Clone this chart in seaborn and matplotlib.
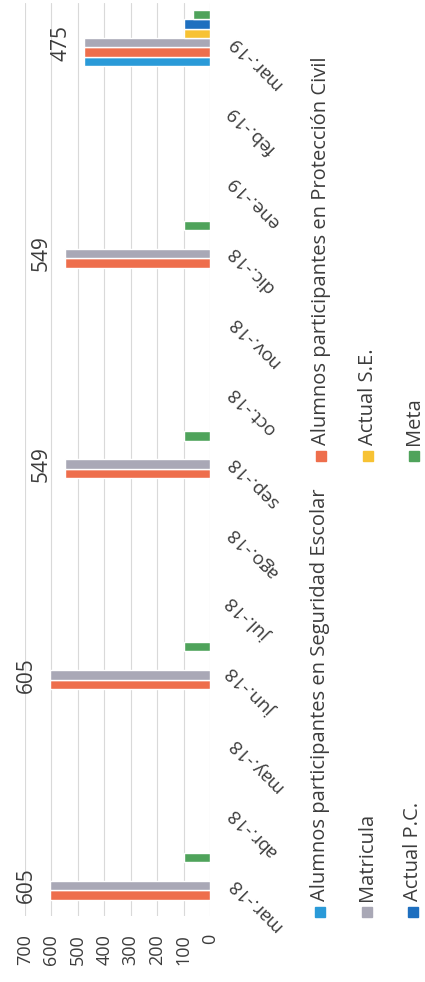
import numpy as np
import pandas as pd
import matplotlib
matplotlib.use('Agg')
import matplotlib.pyplot as plt
from matplotlib.patches import Rectangle
import seaborn as sns

nan = np.nan

months = ['mar.-18', 'abr.-18', 'may.-18', 'jun.-18', 'jul.-18', 'ago.-18', 'sep.-18',
          'oct.-18', 'nov.-18', 'dic.-18', 'ene.-19', 'feb.-19', 'mar.-19']

series = ['Alumnos participantes en Seguridad Escolar',
          'Alumnos participantes en Protección Civil',
          'Matricula', 'Actual S.E.', 'Actual P.C.', 'Meta']
colors = ['#2A9AD8', '#EE6E4C', '#A9A8B6', '#F7C233', '#1E6FBF', '#4FA35B']

seg_escolar = [nan, nan, nan, nan, nan, nan, nan, nan, nan, nan, nan, nan, 475]
prot_civil = [605, nan, nan, 605, nan, nan, 549, nan, nan, 549, nan, nan, 475]
matricula = [605, nan, nan, 605, nan, nan, 549, nan, nan, 549, nan, nan, 475]
actual_se = [nan, nan, nan, nan, nan, nan, nan, nan, nan, nan, nan, nan, 100]
actual_pc = [nan, nan, nan, nan, nan, nan, nan, nan, nan, nan, nan, nan, 100]
meta = [100, nan, nan, 100, nan, nan, 100, nan, nan, 100, nan, nan, 65]

df = pd.DataFrame({'mes': months, series[0]: seg_escolar, series[1]: prot_civil,
                   series[2]: matricula, series[3]: actual_se,
                   series[4]: actual_pc, series[5]: meta})
df = df.melt(id_vars='mes', var_name='serie', value_name='valor').dropna()

sns.set_theme(style='white')
plt.rcParams['font.family'] = ['Open Sans', 'DejaVu Sans']
text_color = '#3C3C3C'

W, H = 425, 982
fig = plt.figure(figsize=(W / 100, H / 100), dpi=100)
ax = fig.add_axes([25 / W, (H - 916) / H, (210 - 25) / W, (916 - 3) / H])

sns.barplot(data=df, x='valor', y='mes', hue='serie', order=months,
            hue_order=series, palette=colors, orient='h', width=0.8,
            saturation=1, errorbar=None, legend=False, ax=ax)

ax.set_ylim(-0.5, len(months) - 0.5)
ax.set_xlim(700, 0)
ax.set_xlabel('')
ax.set_ylabel('')
for s in ax.spines.values():
    s.set_visible(False)

ax.set_xticks(range(0, 701, 100))
ax.grid(axis='x', color='#D9D9D9', linewidth=0.8)
ax.set_axisbelow(True)
ax.tick_params(axis='x', labelrotation=90, length=0, pad=13, labelsize=13,
               labelcolor=text_color)

ax.yaxis.tick_right()
ax.set_yticks(range(len(months)))
ax.set_yticklabels(months, rotation=135, ha='right', va='center',
                   rotation_mode='anchor', fontsize=13.5, color=text_color)
ax.tick_params(axis='y', length=0, pad=15)

# data labels on the Matricula bars
gray = matplotlib.colors.to_rgba(colors[2])
for c in ax.containers:
    if np.allclose(c.patches[0].get_facecolor(), gray):
        labels = ax.bar_label(c, fmt='%g', rotation=90, padding=17, fontsize=15,
                              color=text_color)
        for t in labels:
            t.set_ha('center')
            t.set_va('center')

# legend drawn rotated, like the scanned page
legend_pos = [(320, 912), (321, 456), (367, 912), (368, 456), (413, 912), (414, 456)]
for name, col, (px, py) in zip(series, colors, legend_pos):
    fig.patches.append(Rectangle(((px - 5) / W, (H - py - 5) / H), 10 / W, 10 / H,
                                 transform=fig.transFigure, color=col, figure=fig))
    fig.text(px / W, (H - py + 11) / H, name, rotation=90, ha='center',
             va='bottom', fontsize=14.5, color=text_color)

fig.savefig('out.png', dpi=100)
